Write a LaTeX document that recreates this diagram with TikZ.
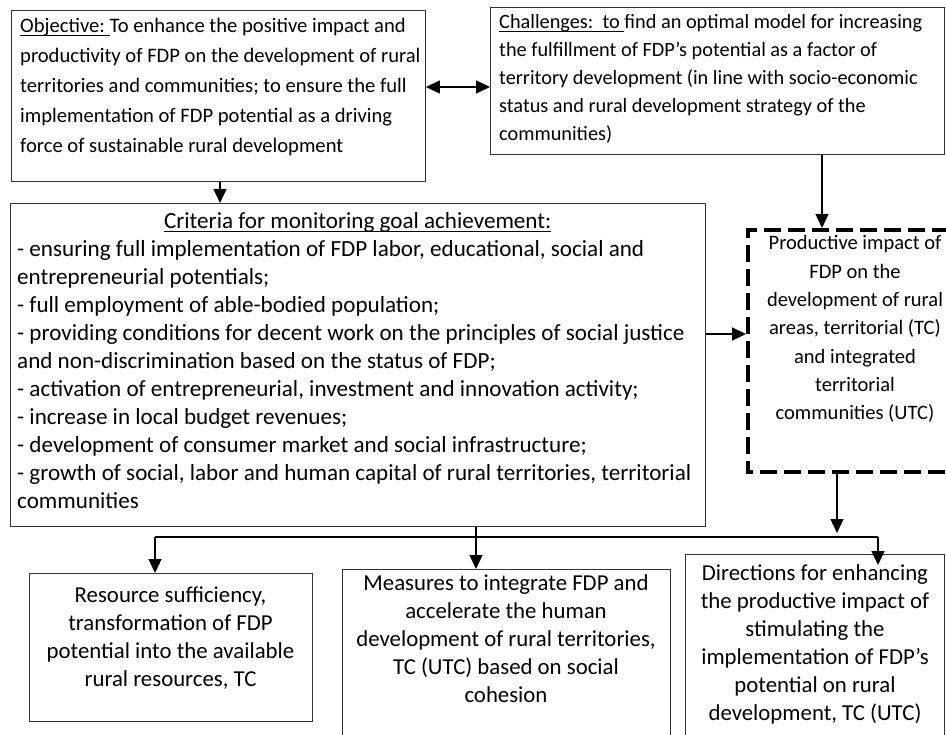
\documentclass[tikz,border=0pt]{standalone}
\usepackage{fontspec}
\setmainfont{Carlito}
\usetikzlibrary{arrows.meta,calc}
\newcommand{\myul}[1]{\setbox0=\hbox{#1}\rlap{\rule[-2.6pt]{\wd0}{0.9pt}}\box0}
\begin{document}
\begin{tikzpicture}[x=1pt,y=-1pt,
  box/.style={draw=black!80,line width=0.9pt,inner sep=0pt,anchor=north west},
  dbox/.style={inner sep=0pt,anchor=north west},
  dline/.style={draw=black,line width=4pt,dash pattern=on 17pt off 7pt,dash phase=10pt,line join=miter},
  txt/.style={inner sep=0pt,align=flush left},
  ctxt/.style={inner sep=0pt,align=flush center},
  fa/.style={font=\fontsize{20.6}{30}\selectfont},
  fc/.style={font=\fontsize{20.3}{27.8}\selectfont},
  fd/.style={font=\fontsize{23.1}{28}\selectfont},
  fb/.style={font=\fontsize{22.8}{28}\selectfont},
  arr/.style={line width=1.3pt,-{Triangle[length=14pt,width=13pt]}},
  dblarr/.style={line width=1.3pt,{Triangle[length=14pt,width=13pt]}-{Triangle[length=14pt,width=13pt]}},
  ln/.style={line width=1.3pt}]
\useasboundingbox (0,0) rectangle (946,735);
\clip (0,0) rectangle (946,735);
\fill[white] (0,0) rectangle (946,735);

% boxes
\node[box,minimum width=414pt,minimum height=171pt] (obj) at (11,10) {};
\node[box,minimum width=454pt,minimum height=147pt] (chal) at (490,7) {};
\node[box,minimum width=695pt,minimum height=323pt] (crit) at (10,203) {};
\node[dbox,minimum width=215pt,minimum height=242pt] (imp) at (748,230) {};
\draw[dline] (imp.north east) -- (imp.north west) -- (imp.south west) -- (imp.south east) -- cycle;
\node[box,minimum width=283pt,minimum height=148pt] (res) at (29,573) {};
\node[box,minimum width=328pt,minimum height=180pt] (meas) at (342,569) {};
\node[box,minimum width=259pt,minimum height=195pt] (dir) at (685,554) {};

% texts
\node[txt,fa,text width=500pt,anchor=base west] (objt) at (20,33)
 {\myul{Objective:\ }To enhance the positive impact and\\
  productivity of FDP on the development of rural\\
  territories and communities; to ensure the full\\
  implementation of FDP potential as a driving\\
  force of sustainable rural development};
\node[txt,fc,text width=500pt,anchor=base west] (chalt) at (499,29)
 {\myul{Challenges:\ \ to\ }find an optimal model for increasing\\
  the fulfillment of FDP’s potential as a factor of\\
  territory development (in line with socio-economic\\
  status and rural development strategy of the\\
  communities)};
\node[txt,fd,text width=760pt,anchor=base west] (critt) at (17,229)
 {\makebox[681pt][c]{\myul{Criteria for monitoring goal achievement:}}\\
  - ensuring full implementation of FDP labor, educational, social and\\
  entrepreneurial potentials;\\
  - full employment of able-bodied population;\\
  - providing conditions for decent work on the principles of social justice\\
  and non-discrimination based on the status of FDP;\\
  - activation of entrepreneurial, investment and innovation activity;\\
  - increase in local budget revenues;\\
  - development of consumer market and social infrastructure;\\
  - growth of social, labor and human capital of rural territories, territorial\\
  communities};
\node[ctxt,font=\fontsize{20.5}{28.3}\selectfont,text width=260pt,anchor=base] (impt) at (855,250)
 {Productive impact of\\ FDP on the\\ development of rural\\ areas, territorial (TC)\\
  and integrated\\ territorial\\ communities (UTC)};
\node[ctxt,fb,text width=360pt,anchor=base] (rest) at (170.5,602)
 {Resource sufficiency,\\ transformation of FDP\\ potential into the available\\ rural resources, TC};
\node[ctxt,fb,text width=400pt,anchor=base] (meast) at (506,590)
 {Measures to integrate FDP and\\ accelerate the human\\ development of rural territories,\\
  TC (UTC) based on social\\ cohesion};
\node[ctxt,fb,text width=360pt,anchor=base] (dirt) at (815,580)
 {Directions for enhancing\\ the productive impact of\\ stimulating the\\ implementation of FDP’s\\
  potential on rural\\ development, TC (UTC)};

% helper coordinates
\coordinate (dy) at (460,87);
\coordinate (ax) at (220,0);
\coordinate (cx) at (822,0);
\coordinate (ey) at (0,334);
\coordinate (ix) at (837,0);
\coordinate (mx) at (476,0);
\coordinate (bL) at (155,537);
\coordinate (bR) at (878,537);

% connectors
\draw[dblarr] (dy -| obj.east) -- (dy -| chal.west);
\draw[arr] (ax |- obj.south) -- (ax |- crit.north);
\draw[arr] (cx |- chal.south) -- ($(cx |- imp.north)+(0,-2)$);
\draw[arr] (ey -| crit.east) -- ($(ey -| imp.west)+(-2,0)$);
\draw[arr] ($(ix |- imp.south)+(0,2)$) -- ($(ix |- bL)+(0,-4)$);
\draw[ln] (bL) -- (bR);
\draw[arr] (bL) -- (bL |- res.north);
\draw[arr] (mx |- crit.south) -- (mx |- meas.north);
\draw[arr] (bR) -- ($(bR |- dir.north)+(0,11)$);
\end{tikzpicture}
\end{document}
